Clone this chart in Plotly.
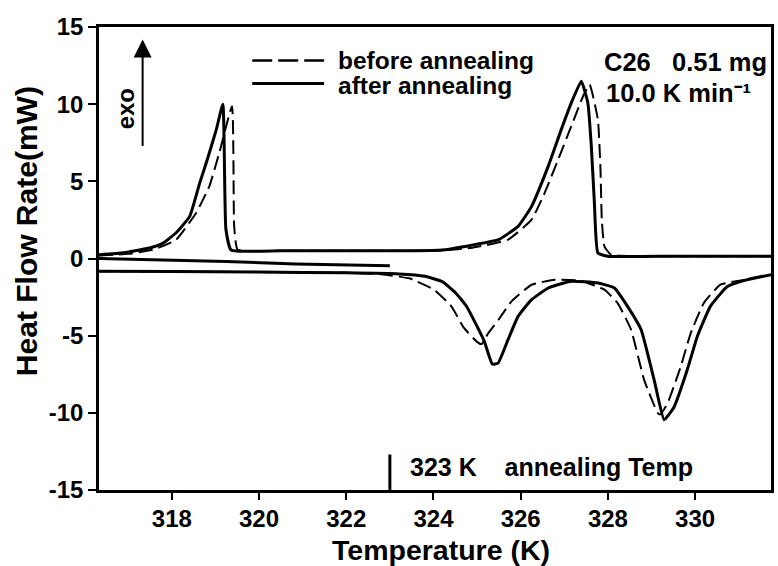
import plotly.graph_objects as go

# ---- data (Temperature in K, Heat flow rate in mW) ----
# cooling runs (exothermic, upper curves)
T_cool_after = [316.33, 316.9, 317.49, 317.8, 318.1, 318.41, 318.64, 318.79, 319.02, 319.17,
                319.24, 319.36, 320.5, 322.0, 323.4, 324.2, 324.72, 325.49, 325.94, 326.25,
                326.63, 326.93, 327.16, 327.39, 327.54, 327.62, 327.69, 327.77, 328.0, 329.5, 331.74]
Q_cool_after = [0.25, 0.38, 0.68, 1.0, 1.67, 2.73, 4.9, 6.2, 8.35, 10.0,
                1.9, 0.55, 0.5, 0.5, 0.5, 0.55, 0.78, 1.22, 2.08, 3.38,
                5.97, 8.35, 10.08, 11.49, 10.08, 7.27, 3.6, 0.36, 0.15, 0.15, 0.15]

T_cool_before = [316.33, 317.0, 317.6, 318.1, 318.56, 318.86, 319.09, 319.38, 319.43, 319.51,
                 320.5, 322.0, 323.4, 324.2, 324.9, 325.71, 326.25, 326.55, 326.86, 327.16,
                 327.43, 327.58, 327.77, 327.83, 327.86, 327.92, 328.07, 329.5, 331.74]
Q_cool_before = [0.2, 0.3, 0.6, 1.22, 2.97, 4.68, 6.86, 9.86, 2.1, 0.57,
                 0.5, 0.5, 0.5, 0.52, 0.7, 1.22, 2.52, 4.25, 6.41, 8.57,
                 10.51, 11.27, 9.0, 5.76, 2.52, 0.79, 0.25, 0.15, 0.15]

# heating runs (endothermic, lower curves)
T_heat_after = [316.33, 318.0, 320.0, 322.0, 323.2, 323.8, 324.2, 324.5, 324.75, 325.0,
                325.17, 325.35, 325.48, 325.71, 325.94, 326.25, 326.63, 327.16, 327.77, 328.15,
                328.45, 328.76, 329.06, 329.29, 329.52, 329.82, 330.05, 330.35, 330.74, 331.2, 331.74]
Q_heat_after = [-0.82, -0.85, -0.88, -0.93, -1.0, -1.15, -1.5, -2.2, -3.06, -4.4,
                -5.4, -6.84, -6.78, -5.26, -3.75, -2.67, -1.91, -1.48, -1.59, -1.91,
                -3.1, -4.6, -7.86, -10.45, -9.6, -7.21, -5.05, -3.1, -1.81, -1.37, -1.05]

T_heat_before = [316.33, 318.0, 320.0, 322.0, 322.8, 323.46, 324.0, 324.4, 324.7, 325.0,
                 325.1, 325.26, 325.49, 325.79, 326.25, 326.78, 327.39, 327.92, 328.22, 328.53,
                 328.83, 329.14, 329.2, 329.37, 329.67, 329.9, 330.2, 330.58, 331.2, 331.74]
Q_heat_before = [-0.82, -0.85, -0.88, -0.93, -1.02, -1.3, -2.0, -3.06, -4.5, -5.4,
                 -5.55, -4.83, -3.97, -2.78, -1.7, -1.38, -1.45, -2.02, -2.88, -4.6,
                 -7.86, -10.0, -10.1, -9.37, -7.0, -4.83, -2.88, -1.7, -1.35, -1.05]

# heating up to the annealing temperature
T_anneal_run = [316.33, 319.25, 320.84, 323.0]
Q_anneal_run = [0.0, -0.19, -0.36, -0.47]

# annealing temperature marker
T_anneal = [323.0, 323.0]
Q_anneal = [-15.0, -12.7]

x_ticks = [318, 320, 322, 324, 326, 328, 330]
x_ticktext = ["318", "320", "322", "324", "326", "328", "330"]
y_ticks = [-15, -10, -5, 0, 5, 10, 15]
y_ticktext = ["-15", "-10", "-5", "0", "5", "10", "15"]

FONT = "Liberation Sans, Arial, Helvetica, sans-serif"
DASH = "14px,6px"

fig = go.Figure()
fig.add_trace(go.Scatter(x=T_cool_before, y=Q_cool_before, mode="lines",
                         line=dict(color="black", width=2, dash=DASH, shape="spline", smoothing=0.4),
                         showlegend=False))
fig.add_trace(go.Scatter(x=T_heat_before, y=Q_heat_before, mode="lines",
                         line=dict(color="black", width=2, dash=DASH, shape="spline", smoothing=0.4),
                         showlegend=False))
fig.add_trace(go.Scatter(x=T_cool_after, y=Q_cool_after, mode="lines",
                         line=dict(color="black", width=3, shape="spline", smoothing=0.4),
                         showlegend=False))
fig.add_trace(go.Scatter(x=T_heat_after, y=Q_heat_after, mode="lines",
                         line=dict(color="black", width=3, shape="spline", smoothing=0.4),
                         showlegend=False))
fig.add_trace(go.Scatter(x=T_anneal_run, y=Q_anneal_run, mode="lines",
                         line=dict(color="black", width=3), showlegend=False))
fig.add_trace(go.Scatter(x=T_anneal, y=Q_anneal, mode="lines",
                         line=dict(color="black", width=3), showlegend=False))

# legend samples (drawn manually to match reference spacing)
fig.add_shape(type="line", xref="paper", yref="paper", x0=0.228, x1=0.335, y0=0.9276, y1=0.9276,
              line=dict(color="black", width=2.5, dash="20px,6px"))
fig.add_shape(type="line", xref="paper", yref="paper", x0=0.228, x1=0.335, y0=0.8778, y1=0.8778,
              line=dict(color="black", width=3))

ann = []
def txt(x, y, s, size=24, xanchor="left", angle=0):
    ann.append(dict(x=x, y=y, xref="paper", yref="paper", text=s, showarrow=False,
                    xanchor=xanchor, yanchor="middle", textangle=angle,
                    font=dict(family=FONT, size=size, color="black", weight="bold")))

txt(0.352, 0.927, "before annealing", size=24.5)
txt(0.352, 0.873, "after annealing", size=24.5)
txt(0.749, 0.925, "C26\u00a0\u00a0 0.51 mg", size=25.5)
txt(0.752, 0.857, "10.0 K min\u207b\u00b9", size=25.5)
txt(0.460, 0.050, "323 K\u00a0\u00a0\u00a0\u00a0annealing Temp", size=25)
txt(0.0400, 0.824, "exo", size=24, xanchor="center", angle=-90)
txt(0.5096, -0.130, "Temperature (K)", size=28.5, xanchor="center")
txt(-0.108, 0.56, "Heat Flow Rate(mW)", size=30, xanchor="center", angle=-90)

# exo arrow
ann.append(dict(x=317.33, y=14.19, ax=317.33, ay=7.19, xref="x", yref="y", axref="x", ayref="y",
                showarrow=True, arrowhead=2, arrowsize=1.8, arrowwidth=2, arrowcolor="black", text=""))

fig.update_layout(
    width=778, height=566,
    margin=dict(l=99, r=4, t=27, b=76),
    paper_bgcolor="white", plot_bgcolor="white",
    annotations=ann,
    font=dict(family=FONT, size=24, color="black"),
    showlegend=False,
)
tickfont = dict(size=24, family=FONT, color="black", weight="bold")
fig.update_xaxes(range=[316.33, 331.74], tickvals=x_ticks, ticktext=x_ticktext, ticks="outside",
                 ticklen=7, tickwidth=2, tickcolor="black", showline=True, linewidth=2.5,
                 linecolor="black", mirror=True, showgrid=False, zeroline=False, tickfont=tickfont,
                 ticklabelstandoff=-2)
fig.update_yaxes(range=[-15, 15], tickvals=y_ticks, ticktext=y_ticktext, ticks="outside",
                 ticklen=8, tickwidth=2, tickcolor="black", showline=True, linewidth=2.5,
                 linecolor="black", mirror=True, showgrid=False, zeroline=False, tickfont=tickfont)

fig.write_html("out.html")
